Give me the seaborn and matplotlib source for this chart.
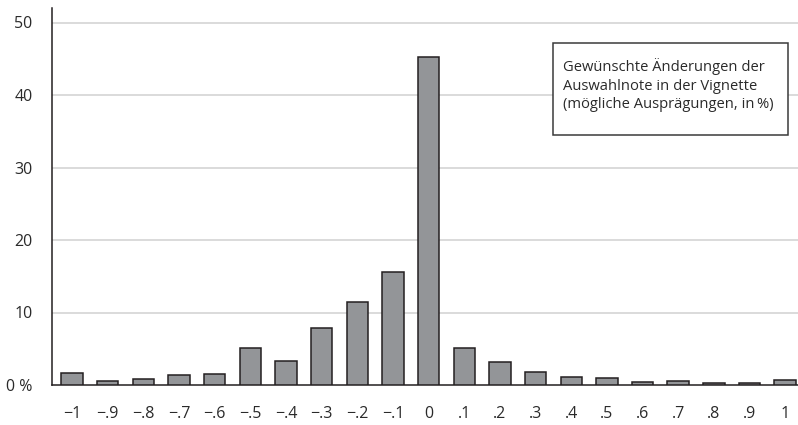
import matplotlib
matplotlib.use("Agg")
import matplotlib.pyplot as plt
from matplotlib.patches import Rectangle
import pandas as pd
import seaborn as sns

# Gewünschte Änderungen der Auswahlnote (Anteile in %)
labels = ["\u22121", "\u2212.9", "\u2212.8", "\u2212.7", "\u2212.6", "\u2212.5",
          "\u2212.4", "\u2212.3", "\u2212.2", "\u2212.1", "0", ".1", ".2", ".3",
          ".4", ".5", ".6", ".7", ".8", ".9", "1"]
shares = [1.7, 0.5, 0.8, 1.4, 1.5, 5.1, 3.3, 7.9, 11.4, 15.6, 45.3,
          5.1, 3.2, 1.8, 1.1, 1.0, 0.4, 0.5, 0.25, 0.25, 0.7]
yticks = [0, 10, 20, 30, 40, 50]
ytick_labels = ["0 %", "10", "20", "30", "40", "50"]

df = pd.DataFrame({"change": labels, "share": shares})

sns.set_style("white")
plt.rcParams["font.family"] = ["Open Sans", "DejaVu Sans"]

W, H = 798, 425
fig = plt.figure(figsize=(W / 100, H / 100), dpi=100)
ax = fig.add_axes([52 / W, 40 / H, 1 - 52 / W, 377 / H])

sns.barplot(data=df, x="change", y="share", order=labels, ax=ax,
            color="#939598", edgecolor="#231f20", linewidth=1.1,
            width=0.6, saturation=1, zorder=3)

ax.set_ylim(0, 52)
ax.set_xlim(-0.56, 20.36)
ax.set_yticks(yticks)
ax.set_yticklabels(ytick_labels)
for y in yticks[1:]:
    ax.axhline(y, color="#d4d4d4", lw=1.2, zorder=1)

ax.tick_params(axis="both", length=0, labelsize=11.5, colors="#2a2a2a")
ax.tick_params(axis="x", pad=15)
ax.tick_params(axis="y", pad=14)
ax.set_xlabel("")
ax.set_ylabel("")

for side in ["top", "right"]:
    ax.spines[side].set_visible(False)
for side in ["left", "bottom"]:
    ax.spines[side].set_color("#231f20")
    ax.spines[side].set_linewidth(1.1)

# legend-like note box
fig.patches.append(Rectangle((553 / W, (H - 135) / H), 235 / W, 92 / H,
                             transform=fig.transFigure, facecolor="white",
                             edgecolor="#3a3a3a", linewidth=1.1, zorder=5))
fig.text(563 / W, (H - 85) / H,
         "Gewünschte Änderungen der\nAuswahlnote in der Vignette\n(mögliche Ausprägungen, in\u2009%)",
         ha="left", va="center", fontsize=10.6, linespacing=1.32,
         color="#2a2a2a", zorder=6)

fig.savefig("out.png", dpi=100)
